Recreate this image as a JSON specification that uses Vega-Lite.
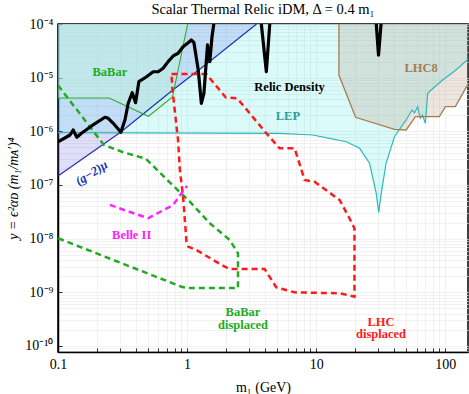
{
  "$schema": "https://vega.github.io/schema/vega-lite/v6.json",
  "width": 410,
  "height": 328,
  "autosize": "none",
  "padding": {"left": 58, "top": 24, "right": 1, "bottom": 42},
  "background": "white",
  "title": {"text": "Scalar Thermal Relic iDM, Δ = 0.4 m₁", "font": "Liberation Serif", "fontSize": 14.5, "fontWeight": "normal", "color": "black", "anchor": "middle", "frame": "group", "baseline": "alphabetic", "offset": -11},
  "config": {"view": {"stroke": "black", "strokeWidth": 1.5}, "font": "Liberation Serif"},
  "datasets": {
    "g2": [
      {"x": 0.1, "y": 1.47e-7}, {"x": 0.307, "y": 9.73e-7}, {"x": 0.771, "y": 5.82e-6}, {"x": 1.48, "y": 1.96e-5}, {"x": 3.45, "y": 1e-4}
    ],
    "lep": [
      {"x": 0.1, "y": 9.5e-7}, {"x": 5.21, "y": 9.2e-7}, {"x": 9.42, "y": 8.55e-7}, {"x": 12.7, "y": 7.42e-7}, {"x": 17.1, "y": 6.41e-7}, {"x": 21.7, "y": 4.83e-7}, {"x": 25.9, "y": 2.54e-7}, {"x": 29.2, "y": 7.0e-8}, {"x": 30.5, "y": 3.05e-8}, {"x": 31.9, "y": 7.0e-8}, {"x": 34.8, "y": 2.54e-7}, {"x": 40.4, "y": 7.94e-7}, {"x": 49.8, "y": 1.63e-6}, {"x": 55.3, "y": 2.5e-6}, {"x": 57.7, "y": 2.2e-6}, {"x": 61.2, "y": 2.88e-6}, {"x": 63.9, "y": 1.75e-6}, {"x": 66.5, "y": 2.01e-6}, {"x": 70.2, "y": 1.41e-6}, {"x": 73.1, "y": 5.12e-6}, {"x": 77.6, "y": 5.89e-6}, {"x": 95.5, "y": 9.06e-6}, {"x": 121, "y": 1.39e-5}, {"x": 150, "y": 2.2e-5}
    ],
    "babar": [
      {"x": 0.1, "y": 4.18e-6}, {"x": 0.249, "y": 4.18e-6}, {"x": 0.502, "y": 1.91e-6}, {"x": 0.771, "y": 4.36e-6}, {"x": 1.01, "y": 1e-4}
    ],
    "lhc8": [
      {"i": 0, "x": 15, "y": 1e-4}, {"i": 1, "x": 15, "y": 1.12e-5}, {"i": 2, "x": 20.2, "y": 1.83e-6}, {"i": 3, "x": 40.4, "y": 1.09e-6}, {"i": 4, "x": 49.8, "y": 1.06e-6}, {"i": 5, "x": 58.7, "y": 1.88e-6}, {"i": 6, "x": 90, "y": 1.88e-6}, {"i": 7, "x": 100.2, "y": 2.88e-6}, {"i": 8, "x": 119.7, "y": 2.88e-6}, {"i": 9, "x": 150, "y": 7.6e-6}
    ],
    "relic": [
      {"i": 0, "x": 0.1, "y": 6.4e-7}, {"i": 1, "x": 0.124, "y": 8.55e-7}, {"i": 2, "x": 0.131, "y": 1.06e-6}, {"i": 3, "x": 0.14, "y": 7.74e-7}, {"i": 4, "x": 0.152, "y": 9.19e-7}, {"i": 5, "x": 0.182, "y": 1.26e-6}, {"i": 6, "x": 0.231, "y": 1.83e-6}, {"i": 7, "x": 0.245, "y": 1.75e-6}, {"i": 8, "x": 0.268, "y": 1.41e-6}, {"i": 9, "x": 0.307, "y": 9.6e-7}, {"i": 10, "x": 0.33, "y": 1.63e-6}, {"i": 11, "x": 0.35, "y": 3.33e-6}, {"i": 12, "x": 0.376, "y": 5.25e-6}, {"i": 13, "x": 0.399, "y": 3.42e-6}, {"i": 14, "x": 0.423, "y": 8.41e-6}, {"i": 15, "x": 0.485, "y": 1.04e-5}, {"i": 16, "x": 0.546, "y": 1.29e-5}, {"i": 17, "x": 0.597, "y": 1.29e-5}, {"i": 18, "x": 0.652, "y": 1.5e-5}, {"i": 19, "x": 0.713, "y": 1.99e-5}, {"i": 20, "x": 0.78, "y": 2.54e-5}, {"i": 21, "x": 0.852, "y": 2.85e-5}, {"i": 22, "x": 0.931, "y": 3.78e-5}, {"i": 23, "x": 1.02, "y": 4.48e-5}, {"i": 24, "x": 1.08, "y": 5.03e-5}, {"i": 25, "x": 1.13, "y": 4.48e-5}, {"i": 26, "x": 1.22, "y": 1.39e-5}, {"i": 27, "x": 1.29, "y": 3.33e-6}, {"i": 28, "x": 1.35, "y": 5.12e-6}, {"i": 29, "x": 1.44, "y": 4.07e-5}, {"i": 30, "x": 1.5, "y": 1.99e-5}, {"i": 31, "x": 1.56, "y": 5.8e-5}, {"i": 32, "x": 1.61, "y": 1e-4}, {"i": 33, "x": 1.7, "y": 1e-3}, {"i": 34, "x": 3.6, "y": 1e-3}, {"i": 35, "x": 3.76, "y": 1e-4}, {"i": 36, "x": 4.11, "y": 1.29e-5}, {"i": 37, "x": 4.37, "y": 1e-4}, {"i": 38, "x": 4.6, "y": 1e-3}, {"i": 39, "x": 28, "y": 1e-3}, {"i": 40, "x": 29.2, "y": 1e-4}, {"i": 41, "x": 30.4, "y": 2.64e-5}, {"i": 42, "x": 31.8, "y": 1e-4}, {"i": 43, "x": 33, "y": 1e-3}, {"i": 44, "x": 150, "y": 1e-3}
    ],
    "babarDisp": [
      {"i": 0, "x": 0.1, "y": 7.2e-6}, {"i": 1, "x": 0.227, "y": 5.56e-7}, {"i": 2, "x": 0.316, "y": 4.12e-7}, {"i": 3, "x": 0.48, "y": 3.09e-7}, {"i": 4, "x": 0.685, "y": 1.31e-7}, {"i": 5, "x": 1.05, "y": 4.89e-8}, {"i": 6, "x": 1.5, "y": 1.94e-8}, {"i": 7, "x": 2.14, "y": 9.44e-9}, {"i": 8, "x": 2.48, "y": 5.34e-9}, {"i": 9, "x": 2.48, "y": 1.2e-9}, {"i": 10, "x": 1.02, "y": 1.2e-9}, {"i": 11, "x": 0.906, "y": 1.27e-9}, {"i": 12, "x": 0.1, "y": 1.02e-8}
    ],
    "lhcDisp": [
      {"i": 0, "x": 0.757, "y": 1.17e-5}, {"i": 1, "x": 1.41, "y": 1.17e-5}, {"i": 2, "x": 1.99, "y": 4.3e-6}, {"i": 3, "x": 2.45, "y": 4.1e-6}, {"i": 4, "x": 4.11, "y": 9.2e-7}, {"i": 5, "x": 5.21, "y": 4.83e-7}, {"i": 6, "x": 6.81, "y": 4.83e-7}, {"i": 7, "x": 8.13, "y": 1.24e-7}, {"i": 8, "x": 9.72, "y": 1.15e-7}, {"i": 9, "x": 15.2, "y": 5.26e-8}, {"i": 10, "x": 18.1, "y": 2.4e-8}, {"i": 11, "x": 19.8, "y": 1.56e-8}, {"i": 12, "x": 19.8, "y": 8.3e-10}, {"i": 13, "x": 15.2, "y": 9.6e-10}, {"i": 14, "x": 6.81, "y": 1.0e-9}, {"i": 15, "x": 4.91, "y": 1.24e-9}, {"i": 16, "x": 3.99, "y": 2.72e-9}, {"i": 17, "x": 2.14, "y": 2.72e-9}, {"i": 18, "x": 1.85, "y": 3.24e-9}, {"i": 19, "x": 1.18, "y": 6.15e-9}, {"i": 20, "x": 1.02, "y": 7.1e-9}, {"i": 21, "x": 0.989, "y": 8.8e-9}, {"i": 22, "x": 0.931, "y": 6.05e-8}, {"i": 23, "x": 0.879, "y": 1.9e-7}, {"i": 24, "x": 0.851, "y": 6.9e-7}, {"i": 25, "x": 0.771, "y": 5.89e-6}, {"i": 26, "x": 0.757, "y": 1.17e-5}
    ],
    "belle": [
      {"x": 0.252, "y": 4.25e-8}, {"x": 0.499, "y": 2.4e-8}, {"x": 0.78, "y": 4.25e-8}, {"x": 0.921, "y": 7.5e-8}, {"x": 1.0, "y": 9.6e-8}
    ],
    "labels": [
      {"x": 0.252, "y": 1.28e-5, "text": "BaBar", "group": "BaBar"},
      {"x": 6.22, "y": 6.84e-6, "text": "Relic Density", "group": "Relic"},
      {"x": 6.04, "y": 1.89e-6, "text": "LEP", "group": "LEP"},
      {"x": 65, "y": 1.5e-5, "text": "LHC8", "group": "LHC8"},
      {"x": 0.372, "y": 1.17e-8, "text": "Belle II", "group": "Belle"},
      {"x": 2.71, "y": 4.22e-10, "text": "BaBar\ndisplaced", "group": "BaBar"},
      {"x": 31.8, "y": 2.84e-10, "text": "LHC\ndisplaced", "group": "LHC"}
    ],
    "g2label": [
      {"x": 0.182, "y": 1.68e-7, "text": "(g−2)μ"}
    ]
  },
  "encoding": {
    "x": {
      "field": "x", "type": "quantitative",
      "scale": {"type": "log", "domain": [0.1, 150], "nice": false},
      "axis": {
        "title": "m₁ (GeV)",
        "values": [0.1, 0.2, 0.3, 0.4, 0.5, 0.6, 0.7, 0.8, 0.9, 1, 2, 3, 4, 5, 6, 7, 8, 9, 10, 20, 30, 40, 50, 60, 70, 80, 90, 100],
        "labelExpr": "datum.value == 0.1 ? '0.1' : (datum.value == 1 || datum.value == 10 || datum.value == 100) ? format(datum.value, 'd') : ''",
        "grid": true, "gridColor": "#ededed", "gridWidth": 0.8,
        "tickSize": -4, "tickColor": "black", "tickWidth": 0.8,
        "domainColor": "black", "domainWidth": 1.5,
        "labelFont": "Liberation Serif", "labelFontSize": 14, "labelColor": "black", "labelPadding": 9, "labelFlush": false, "labelOverlap": false,
        "titleFont": "Liberation Serif", "titleFontSize": 14, "titleFontWeight": "normal", "titleColor": "black", "titleY": 39, "titleBaseline": "alphabetic"
      }
    },
    "y": {
      "field": "y", "type": "quantitative",
      "scale": {"type": "log", "domain": [7.73e-11, 1e-4], "nice": false},
      "axis": {
        "title": "y = ϵ²αᴅ (m₁/mᴀ′)⁴",
        "values": [8e-11, 9e-11, 1e-10, 2e-10, 3e-10, 4e-10, 5e-10, 6e-10, 7e-10, 8e-10, 9e-10, 1e-9, 2e-9, 3e-9, 4e-9, 5e-9, 6e-9, 7e-9, 8e-9, 9e-9, 1e-8, 2e-8, 3e-8, 4e-8, 5e-8, 6e-8, 7e-8, 8e-8, 9e-8, 1e-7, 2e-7, 3e-7, 4e-7, 5e-7, 6e-7, 7e-7, 8e-7, 9e-7, 1e-6, 2e-6, 3e-6, 4e-6, 5e-6, 6e-6, 7e-6, 8e-6, 9e-6, 1e-5, 2e-5, 3e-5, 4e-5, 5e-5, 6e-5, 7e-5, 8e-5, 9e-5, 1e-4],
        "labelExpr": "abs(log(datum.value)/LN10 - round(log(datum.value)/LN10)) < 0.01 ? '10' + ['⁻⁴','⁻⁵','⁻⁶','⁻⁷','⁻⁸','⁻⁹','⁻¹⁰'][round(-log(datum.value)/LN10) - 4] : ''",
        "grid": true, "gridColor": "#ededed", "gridWidth": 0.8,
        "tickSize": -4, "tickWidth": 0.8,
        "tickColor": {"condition": {"test": "abs(log(datum.value)/LN10 - round(log(datum.value)/LN10)) < 0.01", "value": "black"}, "value": "transparent"},
        "domainColor": "black", "domainWidth": 1.5,
        "labelFont": "Liberation Serif", "labelFontSize": 14, "labelColor": "black", "labelPadding": 9, "labelFlush": false, "labelOverlap": false,
        "titleFont": "Liberation Serif", "titleFontSize": 14, "titleFontWeight": "normal", "titleFontStyle": "italic", "titleColor": "black",
        "titleX": -45, "titleY": 164, "titleAngle": 270, "titleAlign": "center", "titleBaseline": "middle"
      }
    }
  },
  "layer": [
    {"data": {"name": "g2"}, "mark": {"type": "area", "color": "#6a5ae6", "opacity": 0.2, "clip": true}, "encoding": {"y2": {"datum": 0.0001}}},
    {"data": {"name": "lep"}, "mark": {"type": "area", "color": "#00e6e6", "opacity": 0.14, "clip": true}, "encoding": {"y2": {"datum": 0.0001}}},
    {"data": {"name": "babar"}, "mark": {"type": "area", "color": "#c0f0dc", "opacity": 0.5, "clip": true}, "encoding": {"y2": {"datum": 0.0001}}},
    {"data": {"name": "lhc8"}, "transform": [{"filter": "datum.i > 0"}], "mark": {"type": "area", "color": "#b49682", "opacity": 0.25, "clip": true}, "encoding": {"y2": {"datum": 0.0001}}},
    {"data": {"name": "lep"}, "mark": {"type": "line", "color": "#30b8b8", "strokeWidth": 1.2, "clip": true}, "encoding": {}},
    {"data": {"name": "g2"}, "mark": {"type": "line", "color": "#2030b0", "strokeWidth": 1.2, "clip": true}, "encoding": {}},
    {"data": {"name": "babar"}, "mark": {"type": "line", "color": "#33aa33", "strokeWidth": 1.1, "clip": true}, "encoding": {}},
    {"data": {"name": "lhc8"}, "mark": {"type": "line", "color": "#a87c50", "strokeWidth": 1.3, "clip": true}, "encoding": {"order": {"field": "i"}}},
    {"data": {"name": "babarDisp"}, "mark": {"type": "line", "color": "#22aa22", "strokeWidth": 2.5, "strokeDash": [6, 4], "clip": true}, "encoding": {"order": {"field": "i"}}},
    {"data": {"name": "lhcDisp"}, "mark": {"type": "line", "color": "#ff1a1a", "strokeWidth": 2.5, "strokeDash": [6, 4], "clip": true}, "encoding": {"order": {"field": "i"}}},
    {"data": {"name": "belle"}, "mark": {"type": "line", "color": "#ff22ff", "strokeWidth": 2.5, "strokeDash": [6, 4], "clip": true}, "encoding": {}},
    {"data": {"name": "relic"}, "mark": {"type": "line", "color": "black", "strokeWidth": 3.2, "strokeJoin": "round", "clip": true}, "encoding": {"order": {"field": "i"}}},
    {"data": {"name": "labels"}, "mark": {"type": "text", "font": "Liberation Serif", "fontSize": 12.5, "fontWeight": "bold", "align": "center", "baseline": "middle", "lineBreak": "\n", "lineHeight": 12.5},
     "encoding": {"text": {"field": "text"}, "color": {"field": "group", "type": "nominal", "legend": null, "scale": {"domain": ["BaBar", "Relic", "LEP", "LHC8", "Belle", "LHC"], "range": ["#22aa22", "#000000", "#2a9d9d", "#a87c50", "#ff22ff", "#ff1a1a"]}}}},
    {"data": {"name": "g2label"}, "mark": {"type": "text", "font": "Liberation Serif", "fontSize": 12.5, "fontWeight": "bold", "fontStyle": "italic", "color": "#2030b0", "align": "center", "baseline": "middle", "angle": 328},
     "encoding": {"text": {"field": "text"}}}
  ]
}
